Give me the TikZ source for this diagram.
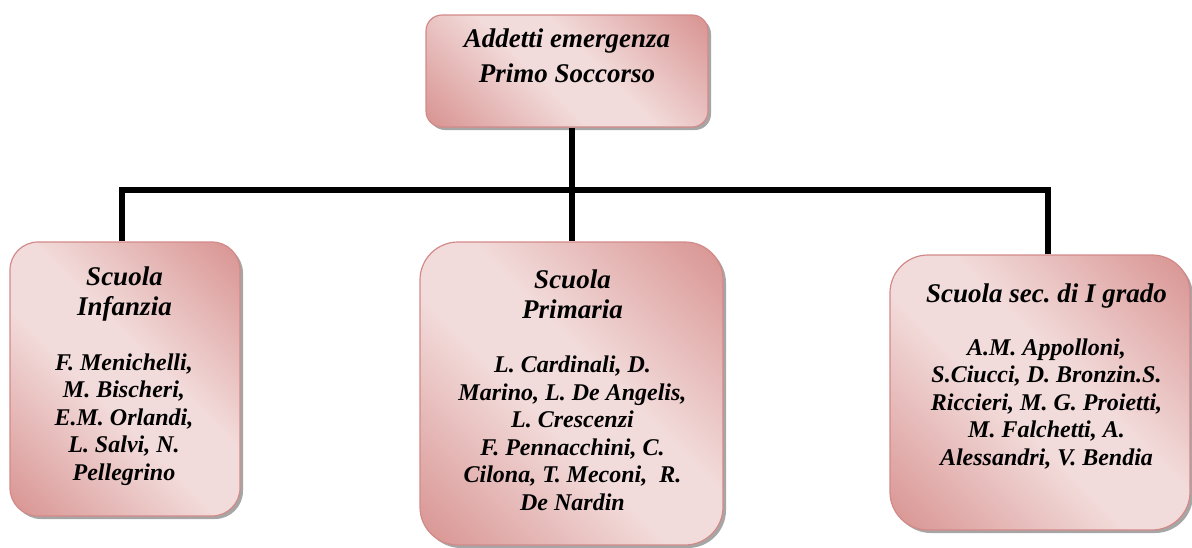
\documentclass[tikz,border=0pt]{standalone}
\usepackage{fontspec}
\setmainfont{Liberation Serif}
\frenchspacing
\usetikzlibrary{shadows}
\definecolor{rdark}{HTML}{D99694}
\definecolor{rlight}{HTML}{F2DCDB}
\definecolor{redge}{HTML}{D28A89}
\pgfdeclarehorizontalshading{rosaband}{100bp}{color(0bp)=(rdark); color(16bp)=(rdark); color(44bp)=(rlight); color(56bp)=(rlight); color(84bp)=(rdark); color(100bp)=(rdark)}
\begin{document}
\begin{tikzpicture}[x=1pt,y=-1pt,
  box/.style={draw=redge, line width=1.2pt, shading=rosaband, shading angle=45,
    rectangle, inner sep=0pt,
    drop shadow={shadow xshift=3pt, shadow yshift=-3pt, fill=black!35, opacity=1}},
  link/.style={line width=6pt, line join=miter},
  ttl/.style={font=\fontsize{27}{30}\selectfont\bfseries\itshape, align=center, anchor=base, inner sep=0pt},
  nms/.style={font=\fontsize{24}{27.5}\selectfont\bfseries\itshape, align=center, anchor=base, inner sep=0pt}]
\useasboundingbox (0,0) rectangle (1192,547);

% boxes
\node[box, rounded corners=16pt, minimum width=282pt, minimum height=112pt] (top) at (567,71) {};
\node[box, rounded corners=28pt, minimum width=230pt, minimum height=274pt] (inf) at (125,379) {};
\node[box, rounded corners=38pt, minimum width=303pt, minimum height=303pt] (pri) at (571.5,393.5) {};
\node[box, rounded corners=38pt, minimum width=300pt, minimum height=275pt] (sec) at (1040,392.5) {};

% connectors
\coordinate (hl) at (122,190);
\coordinate (hr) at (1048,190);
\draw[link] (top.south -| pri.north) -- (pri.north);
\draw[link] (inf.north -| hl) -- (hl) -- (hr) -- (sec.north -| hr);

% texts (anchored on the baseline of the last line)
\node[ttl, font=\fontsize{27}{35}\selectfont\bfseries\itshape] (ttop) at (567,82) {Addetti emergenza\\Primo Soccorso};
\node[ttl] (tinf) at (124.5,315) {Scuola\\Infanzia};
\node[nms] (ninf) at (124,480) {F. Menichelli,\\M. Bischeri,\\E.M. Orlandi,\\L. Salvi, N.\\Pellegrino};
\node[ttl] (tpri) at (572.5,318) {Scuola\\Primaria};
\node[nms] (npri) at (572.5,510) {L. Cardinali, D.\\Marino, L. De Angelis,\\L. Crescenzi\\F. Pennacchini, C.\\Cilona, T. Meconi,~ R.\\De Nardin};
\node[ttl] (tsec) at (1046.5,302) {Scuola sec. di I grado};
\node[nms] (nsec) at (1046.5,465) {A.M. Appolloni,\\S.Ciucci, D. Bronzin.S.\\Riccieri, M. G. Proietti,\\M. Falchetti, A.\\Alessandri, V. Bendia};
\end{tikzpicture}
\end{document}
